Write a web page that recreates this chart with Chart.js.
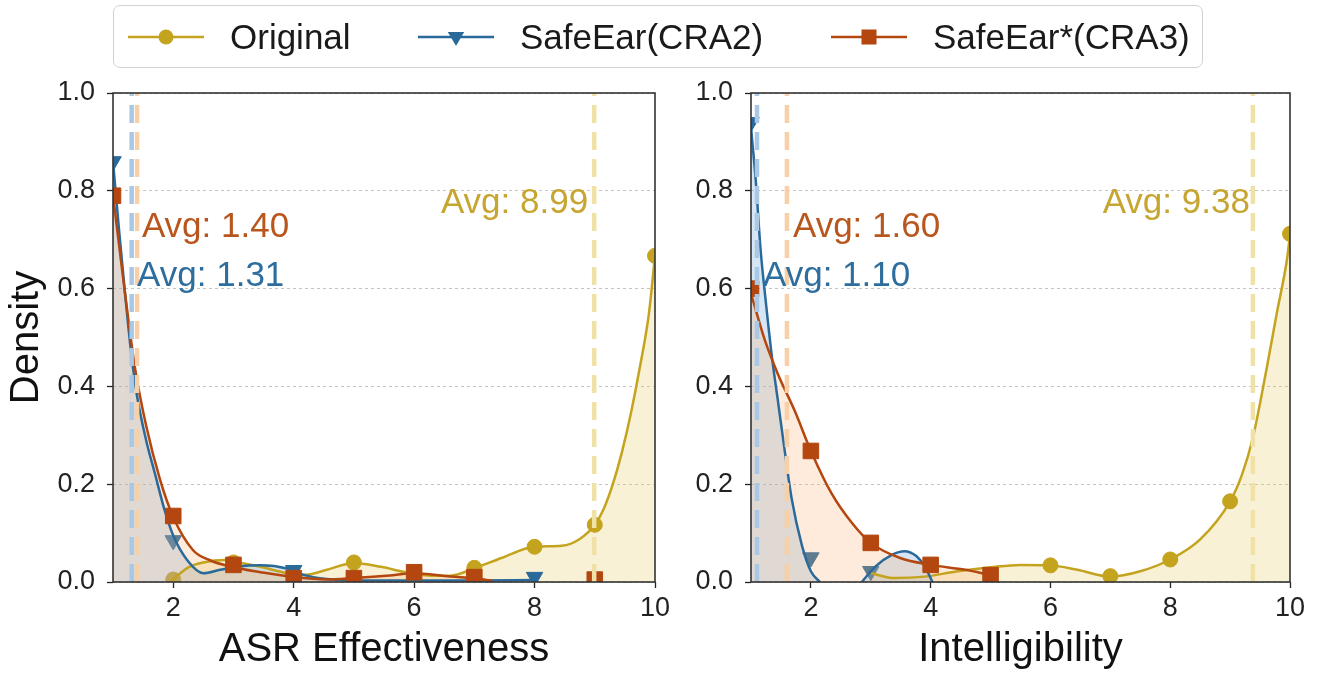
<!DOCTYPE html>
<html>
<head>
<meta charset="utf-8">
<script src="https://cdn.jsdelivr.net/npm/chart.js@4.4.1/dist/chart.umd.min.js"></script>
<style>
  body { margin: 0; background: #fff; width: 1320px; height: 675px; position: relative; overflow: hidden;
         font-family: "Liberation Sans", Arial, sans-serif; }
  #asrChart { position: absolute; left: 0; top: 0; }
  #intChart { position: absolute; left: 680px; top: 0; }
  .legend { position: absolute; left: 113px; top: 5px; width: 1090px; height: 63px; box-sizing: border-box;
            border: 1.5px solid #d2d2d2; border-radius: 7px; background: #fff; z-index: 2; }
  .item { position: absolute; top: 0; height: 100%; display: flex; align-items: center; }
  .item span { margin-left: 26px; font-size: 35px; color: #1a1a1a; white-space: nowrap; }
</style>
</head>
<body>
<div class="legend" id="legend"></div>
<canvas id="asrChart" width="680" height="675"></canvas>
<canvas id="intChart" width="640" height="675"></canvas>
<script>
// shared axis ticks and series names
const xTicks = [2, 4, 6, 8, 10];
const yTicks = [0, 0.2, 0.4, 0.6, 0.8, 1.0];
const seriesNames = ['Original', 'SafeEar(CRA2)', 'SafeEar*(CRA3)'];

// ASR Effectiveness panel: density curves
const asrOrigX = [1.95, 2.25, 2.5, 2.85, 3.0, 3.45, 3.9, 4.2, 4.55, 5.0, 5.45, 5.9, 6.3, 6.6, 7.0, 7.45, 8.0, 8.45, 8.75, 9.0, 9.15, 9.3, 9.45, 9.6, 9.75, 9.9, 10.0];
const asrOrigY = [0.0, 0.03, 0.04, 0.045, 0.042, 0.031, 0.018, 0.015, 0.025, 0.039, 0.031, 0.019, 0.013, 0.013, 0.028, 0.049, 0.072, 0.074, 0.088, 0.117, 0.15, 0.2, 0.265, 0.345, 0.44, 0.55, 0.667];
const asrCra2X = [1.0, 1.1, 1.2, 1.3, 1.4, 1.55, 1.7, 1.85, 2.0, 2.23, 2.5, 2.78, 3.05, 3.45, 3.9, 4.15, 4.55, 5.0, 6.0, 7.0, 8.0];
const asrCra2Y = [0.86, 0.72, 0.59, 0.47, 0.38, 0.29, 0.22, 0.15, 0.095, 0.045, 0.018, 0.025, 0.031, 0.034, 0.027, 0.015, 0.006, 0.003, 0.003, 0.003, 0.004];
const asrCra3X = [1.0, 1.1, 1.2, 1.37, 1.55, 1.78, 2.0, 2.33, 2.6, 3.0, 3.45, 4.0, 4.55, 5.0, 5.65, 6.0, 6.6, 7.0, 7.3];
const asrCra3Y = [0.79, 0.69, 0.59, 0.434, 0.32, 0.21, 0.133, 0.065, 0.045, 0.03, 0.02, 0.01, 0.005, 0.008, 0.014, 0.018, 0.011, 0.008, 0.002];
// ASR Effectiveness panel: histogram markers
const asrOrigPtX = [2, 3, 5, 7, 8, 9, 10];
const asrOrigPtY = [0.005, 0.04, 0.04, 0.029, 0.072, 0.117, 0.667];
const asrCra2PtX = [1, 2, 4, 8];
const asrCra2PtY = [0.86, 0.085, 0.024, 0.01];
const asrCra3PtX = [1, 2, 3, 4, 5, 6, 7, 9];
const asrCra3PtY = [0.79, 0.135, 0.035, 0.008, 0.008, 0.02, 0.01, 0.005];
const asrAvg = [8.99, 1.31, 1.40];

// Intelligibility panel: density curves
const intOrigX = [3.0, 3.4, 3.9, 4.45, 5.0, 5.5, 6.0, 6.45, 7.0, 7.5, 8.0, 8.5, 9.0, 9.2, 9.38, 9.6, 9.78, 9.95, 10.0];
const intOrigY = [0.018, 0.008, 0.011, 0.022, 0.03, 0.035, 0.034, 0.025, 0.011, 0.022, 0.046, 0.087, 0.165, 0.22, 0.295, 0.43, 0.55, 0.66, 0.71];
const intCra2X = [1.0, 1.08, 1.16, 1.25, 1.35, 1.45, 1.55, 1.68, 1.85, 2.0, 2.15, 2.5, 2.85, 3.08, 3.36, 3.56, 3.76, 3.9, 4.03];
const intCra2Y = [0.93, 0.82, 0.68, 0.57, 0.46, 0.37, 0.28, 0.17, 0.075, 0.022, 0.0, null, 0.0, 0.032, 0.056, 0.063, 0.053, 0.032, 0.0];
const intCra3X = [1.0, 1.23, 1.45, 1.73, 2.0, 2.35, 2.69, 3.0, 3.49, 4.0, 4.58, 5.0];
const intCra3Y = [0.59, 0.495, 0.425, 0.35, 0.268, 0.18, 0.12, 0.08, 0.049, 0.035, 0.025, 0.014];
// Intelligibility panel: histogram markers
const intOrigPtX = [6, 7, 8, 9, 10];
const intOrigPtY = [0.034, 0.012, 0.046, 0.165, 0.712];
const intCra2PtX = [1, 2, 3];
const intCra2PtY = [0.94, 0.05, 0.022];
const intCra3PtX = [1, 2, 3, 4, 5];
const intCra3PtY = [0.6, 0.268, 0.08, 0.035, 0.014];
const intAvg = [9.38, 1.10, 1.60];

// styles
const FONT = "'Liberation Sans', Arial, sans-serif";
const lineColors = ['#C4A31E', '#2A6A9A', '#B4470F'];
const fillColors = ['rgba(232,200,95,0.26)', 'rgba(110,165,215,0.28)', 'rgba(250,175,110,0.25)'];
const dashColors = ['#F0E1A6', '#A8C8E6', '#F8D0A8'];
const textColors = ['#C6A530', '#2E6E9E', '#B8561E'];
const markers = [
  { style: 'circle', radius: 7.5, rotation: 0 },
  { style: 'triangle', radius: 9.5, rotation: 180 },
  { style: 'rect', radius: 11, rotation: 0 }
];
// draw order (lower = on top)
const markerOrder = [10, 9, 3];
const curveOrder = [6, 5, 4];
const fillOrder = [11, 8, 7];

const pts = (xs, ys) => xs.map((x, i) => ({ x: x, y: ys[i] }));

// legend (html)
const legendPos = [14, 304, 717];
const legend = document.getElementById('legend');
seriesNames.forEach((name, i) => {
  const c = lineColors[i];
  let mark = '<circle cx="38" cy="12" r="7.5" fill="' + c + '"/>';
  if (i === 1) mark = '<polygon points="29.8,7 46.2,7 38,21" fill="' + c + '"/>';
  if (i === 2) mark = '<rect x="30.5" y="4.5" width="15" height="15" fill="' + c + '"/>';
  const el = document.createElement('div');
  el.className = 'item';
  el.style.left = legendPos[i] + 'px';
  el.innerHTML = '<svg width="76" height="24"><line x1="0" y1="12" x2="76" y2="12" stroke="' + c +
    '" stroke-width="2.5"/>' + mark + '</svg><span>' + name + '</span>';
  legend.appendChild(el);
});

const framePlugin = {
  id: 'frame',
  afterDatasetsDraw(chart) {
    const a = chart.chartArea, ctx = chart.ctx;
    ctx.save();
    ctx.strokeStyle = '#333';
    ctx.lineWidth = 1.6;
    ctx.strokeRect(a.left, a.top, a.right - a.left, a.bottom - a.top);
    ctx.restore();
  }
};

const avgLabelPlugin = {
  id: 'avgLabels',
  afterDatasetsDraw(chart, args, opts) {
    const ctx = chart.ctx, xs = chart.scales.x, ys = chart.scales.y;
    ctx.save();
    ctx.font = '35px ' + FONT;
    ctx.textBaseline = 'middle';
    opts.labels.forEach(l => {
      ctx.fillStyle = l.color;
      ctx.textAlign = l.align;
      ctx.fillText(l.text, xs.getPixelForValue(l.x), ys.getPixelForValue(l.y));
    });
    ctx.restore();
  }
};

function makePanel(id, p) {
  const datasets = [];
  p.avg.forEach((a, i) => {
    datasets.push({
      data: [{ x: a, y: yTicks[0] }, { x: a, y: yTicks[yTicks.length - 1] }],
      borderColor: dashColors[i], borderWidth: 4.5, borderDash: [18, 9],
      pointRadius: 0, fill: false, clip: 0, order: i
    });
  });
  [0, 1, 2].forEach(s => {
    const m = markers[s];
    datasets.push({
      data: pts(p.ptX[s], p.ptY[s]), showLine: false,
      pointStyle: m.style, pointRadius: m.radius, pointRotation: m.rotation,
      pointBackgroundColor: lineColors[s], pointBorderColor: lineColors[s], pointBorderWidth: 1,
      clip: 0, order: markerOrder[s]
    });
    datasets.push({
      data: pts(p.kdeX[s], p.kdeY[s]),
      borderColor: lineColors[s], borderWidth: 2.5, fill: false,
      pointRadius: 0, cubicInterpolationMode: 'monotone', spanGaps: false,
      clip: 0, order: curveOrder[s]
    });
    datasets.push({
      data: pts(p.kdeX[s], p.kdeY[s]),
      borderWidth: 0, borderColor: 'rgba(0,0,0,0)', backgroundColor: fillColors[s],
      fill: 'origin', pointRadius: 0, cubicInterpolationMode: 'monotone', spanGaps: false,
      clip: 0, order: fillOrder[s]
    });
  });

  const labels = [];
  p.avg.forEach((a, i) => {
    const off = p.labelOff[i];
    labels.push({ text: 'Avg: ' + a.toFixed(2), x: a + off[0], y: off[1], align: off[2], color: textColors[i] });
  });

  return new Chart(document.getElementById(id), {
    type: 'line',
    data: { datasets: datasets },
    options: {
      responsive: false,
      animation: false,
      events: [],
      layout: { padding: { left: 0, right: p.padRight, top: 93, bottom: 0 } },
      plugins: {
        legend: { display: false },
        tooltip: { enabled: false },
        avgLabels: { labels: labels }
      },
      scales: {
        x: {
          type: 'linear', min: 1, max: 10,
          afterFit: s => { s.height = 93; },
          afterBuildTicks: s => { s.ticks = xTicks.map(v => ({ value: v })); },
          grid: { drawOnChartArea: false, drawTicks: true, tickLength: 6, tickColor: '#222', tickWidth: 1.3 },
          border: { display: false },
          ticks: { color: '#222', font: { size: 27, family: FONT }, padding: 4, maxRotation: 0, autoSkip: false },
          title: { display: true, text: p.xTitle, color: '#111', font: { size: 40, family: FONT }, padding: { top: 0, bottom: 1 } }
        },
        y: {
          type: 'linear', min: 0, max: 1,
          afterFit: s => { s.width = p.yWidth; },
          afterBuildTicks: s => { s.ticks = yTicks.map(v => ({ value: v })); },
          grid: { color: '#c4c4c4', lineWidth: 1, drawTicks: true, tickLength: 6, tickColor: '#222', tickWidth: 1.3 },
          border: { display: false, dash: [3, 3] },
          ticks: { color: '#222', font: { size: 27, family: FONT }, padding: 12, callback: v => v.toFixed(1) },
          title: { display: !!p.yTitle, text: p.yTitle || '', color: '#111', font: { size: 40, family: FONT }, padding: { top: 3, bottom: 0 } }
        }
      }
    },
    plugins: [avgLabelPlugin, framePlugin]
  });
}

makePanel('asrChart', {
  kdeX: [asrOrigX, asrCra2X, asrCra3X], kdeY: [asrOrigY, asrCra2Y, asrCra3Y],
  ptX: [asrOrigPtX, asrCra2PtX, asrCra3PtX], ptY: [asrOrigPtY, asrCra2PtY, asrCra3PtY],
  avg: asrAvg,
  labelOff: [[-0.1, 0.775, 'right'], [0.09, 0.625, 'left'], [0.08, 0.725, 'left']],
  xTitle: 'ASR Effectiveness', yTitle: 'Density', yWidth: 113, padRight: 25
});

makePanel('intChart', {
  kdeX: [intOrigX, intCra2X, intCra3X], kdeY: [intOrigY, intCra2Y, intCra3Y],
  ptX: [intOrigPtX, intCra2PtX, intCra3PtX], ptY: [intOrigPtY, intCra2PtY, intCra3PtY],
  avg: intAvg,
  labelOff: [[-0.05, 0.775, 'right'], [0.1, 0.625, 'left'], [0.1, 0.725, 'left']],
  xTitle: 'Intelligibility', yTitle: null, yWidth: 71, padRight: 30
});
</script>
</body>
</html>
